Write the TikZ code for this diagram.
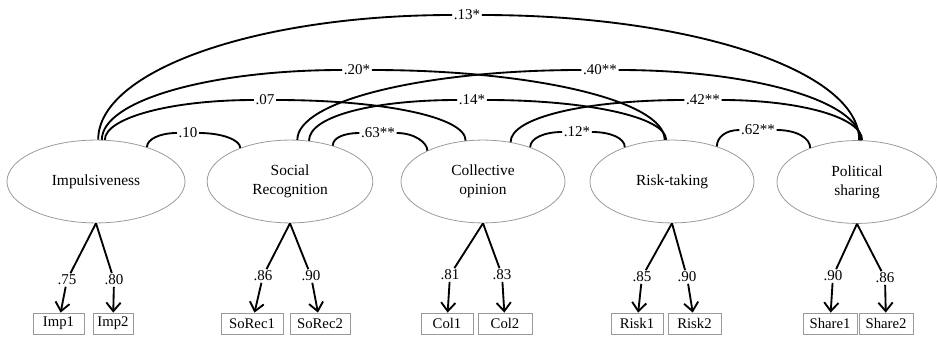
\documentclass[tikz,border=0pt]{standalone}
\usepackage{fontspec}
\setmainfont{Liberation Serif}
\usetikzlibrary{arrows.meta, shapes.geometric}

\tikzset{
    latent/.style={ellipse, draw=gray!80, line width=0.55pt, minimum width=116pt, minimum height=58pt,
        inner sep=0pt, align=center, font=\fontsize{10.8}{13.3}\selectfont},
    ind/.style={rectangle, draw=gray!80, line width=0.55pt, minimum height=14.7pt, inner sep=1pt,
        font=\fontsize{10.3}{12}\selectfont},
    coef/.style={inner sep=1pt, font=\fontsize{10.5}{12}\selectfont},
    load/.style={line width=1.3pt},
    cov/.style={line width=1.3pt},
}

\begin{document}
\begin{tikzpicture}[x=0.7pt, y=0.7pt]
        \useasboundingbox (0,0) rectangle (937,337);

        % latent factors
        \node[latent, minimum width=124.6pt] (imp) at (96,155.5) {Impulsiveness};
        \node[latent] (sr) at (290,155.5) {Social\\Recognition};
        \node[latent, minimum width=114.8pt] (co) at (483,155.5) {Collective\\opinion};
        \node[latent, minimum width=114.8pt] (rt) at (672,155.5) {Risk-taking};
        \node[latent, minimum width=112pt] (ps) at (857,155) {Political\\sharing};

        % observed items
        \foreach \n/\x/\w/\t in {imp1/58.5/51/Imp1, imp2/113/40/Imp2, sorec1/252/62/SoRec1, sorec2/320/60/SoRec2,
                col1/447/52/Col1, col2/505/54/Col2, risk1/637/52/Risk1, risk2/694.5/53/Risk2,
                share1/830/54/Share1, share2/886/54/Share2} {
            \node[ind, minimum width=\w*0.7pt] (\n) at (\x,13.5) {\t};
        }

        % loadings
        \foreach \f/\n/\x/\y/\v in {imp/imp1/67/57/.75, imp/imp2/114/57/.80, sr/sorec1/263/61/.86, sr/sorec2/311/61/.90,
                co/col1/450/62/.81, co/col2/502/62/.83, rt/risk1/642/60/.85, rt/risk2/687/60/.90,
                ps/share1/833/61/.90, ps/share2/885/59/.86} {
            \node[coef] (l\n) at (\x,\y) {\v};
            \draw[load] (\f.south) -- (l\n);
            \draw[load, -{Straight Barb[length=6pt,width=10pt]}] (l\n) -- (\n);
        }

        % correlation labels
        \node[coef] (l10) at (188,204) {.10};
        \node[coef] (l63) at (378,204) {.63**};
        \node[coef] (l12) at (577,205) {.12*};
        \node[coef] (l62) at (758,207) {.62**};
        \node[coef] (l07) at (265,237) {.07};
        \node[coef] (l14) at (472,237) {.14*};
        \node[coef] (l42) at (703,237) {.42**};
        \node[coef] (l20) at (357,267) {.20*};
        \node[coef] (l40) at (600,267) {.40**};
        \node[coef] (l13) at (467,322) {.13*};

        % correlation arcs
        \draw[cov] (imp.34) .. controls +(0,8) and +(-17,0) .. (l10.west)
            (l10.east) .. controls +(23,0) and +(0,8) .. (sr.146);
        \draw[cov] (sr.40) .. controls +(0,8) and +(-15,0) .. (l63.west)
            (l63.east) .. controls +(18,0) and +(0,8) .. (co.151);
        \draw[cov] (co.36) .. controls +(0,9) and +(-18,0) .. (l12.west)
            (l12.east) .. controls +(19,0) and +(0,9) .. (rt.144);
        \draw[cov] (rt.38) .. controls +(0,9) and +(-14,0) .. (l62.west)
            (l62.east) .. controls +(20,0) and +(0,10) .. (ps.144);
        \draw[cov] (imp.78) .. controls +(0,22) and +(-83,0) .. (l07.west)
            (l07.east) .. controls +(105,0) and +(0,24) .. (co.113);
        \draw[cov] (sr.65) .. controls +(0,25) and +(-82,0) .. (l14.west)
            (l14.east) .. controls +(99,0) and +(0,23) .. (rt.98);
        \draw[cov] (co.55) .. controls +(0,25) and +(-97,0) .. (l42.west)
            (l42.east) .. controls +(78,0) and +(0,23) .. (ps.83);
        \draw[cov] (imp.82) .. controls +(0,39) and +(-133,0) .. (l20.west)
            (l20.east) .. controls +(162,0) and +(0,39) .. (rt.100);
        \draw[cov] (sr.80) .. controls +(0,39) and +(-157,0) .. (l40.west)
            (l40.east) .. controls +(134,0) and +(0,39) .. (ps.85);
        \draw[cov] (imp.87) .. controls +(0,69) and +(-196,0) .. (l13.west)
            (l13.east) .. controls +(208,0) and +(0,70) .. (ps.87);
    \end{tikzpicture}
\end{document}
